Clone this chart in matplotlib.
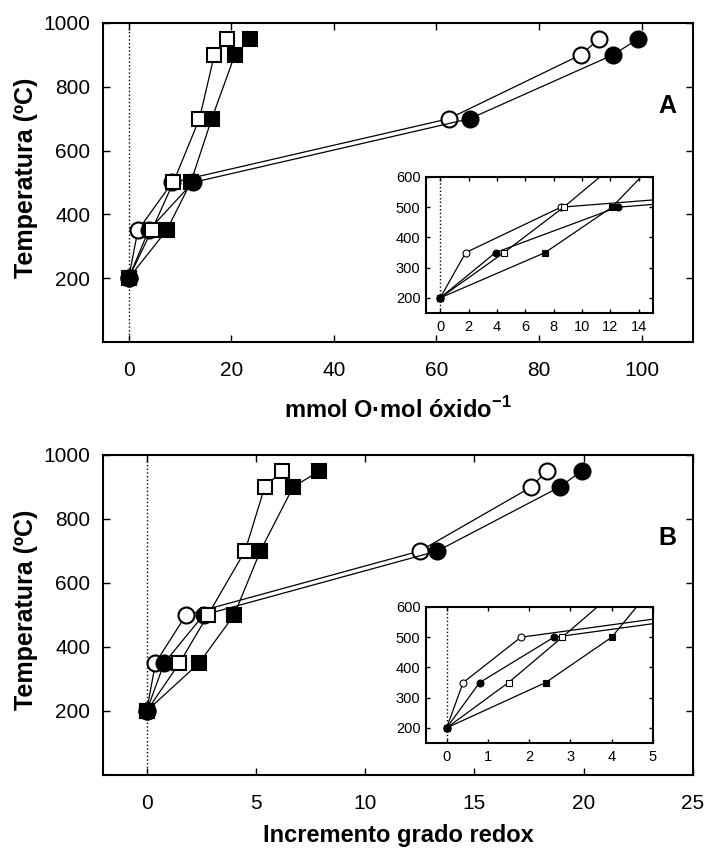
import matplotlib
matplotlib.use("Agg")
import matplotlib.pyplot as plt

# temperatures (ºC) shared by every series
temps = [200, 350, 500, 700, 900, 950]

# panel A: mmol O / mol oxide
oc_a = [0, 1.8, 8.5, 62.4, 88.1, 91.7]
fc_a = [0, 3.9, 12.5, 66.5, 94.4, 99.3]
os_a = [0, 4.5, 8.7, 13.8, 16.7, 19.1]
fs_a = [0, 7.4, 12.1, 16.2, 20.7, 23.7]

# panel B: redox degree increment
oc_b = [0, 0.4, 1.8, 12.5, 17.6, 18.3]
fc_b = [0, 0.8, 2.6, 13.3, 18.9, 19.9]
os_b = [0, 1.5, 2.8, 4.5, 5.4, 6.2]
fs_b = [0, 2.4, 4.0, 5.2, 6.7, 7.9]

plt.rcParams["font.family"] = ["Liberation Sans", "DejaVu Sans"]
plt.rcParams["mathtext.fontset"] = "custom"
plt.rcParams["mathtext.rm"] = "Liberation Sans"
plt.rcParams["mathtext.bf"] = "Liberation Sans:bold"

W, H = 708, 848
fig = plt.figure(figsize=(W / 100, H / 100), dpi=100)


def px_axes(l, t, r, b):
    return fig.add_axes([l / W, 1 - b / H, (r - l) / W, (b - t) / H])


def style(ax, lw=1.5, fs=15, length=5, xpad=14, ypad=9):
    for s in ax.spines.values():
        s.set_linewidth(lw)
    ax.tick_params(direction="in", top=True, right=True, length=length, width=1,
                   labelsize=fs)
    ax.tick_params(axis="x", pad=xpad)
    ax.tick_params(axis="y", pad=ypad)


def draw(ax, series, big=True):
    ms_c, ms_s = (11.5, 10) if big else (5, 4.5)
    mew = 1.5 if big else 0.8
    oc, fc, os_, fs = series
    ax.axvline(0, color="black", linestyle=":", lw=1, zorder=1)
    kw = dict(color="black", lw=0.9, mec="black", mew=mew)
    ax.plot(oc, temps, marker="o", ms=ms_c, mfc="white", zorder=3, **kw)
    ax.plot(fc, temps, marker="o", ms=ms_c, mfc="black", zorder=3, **kw)
    ax.plot(os_, temps, marker="s", ms=ms_s, mfc="white", zorder=4, **kw)
    ax.plot(fs, temps, marker="s", ms=ms_s, mfc="black", zorder=4, **kw)


panels = [
    dict(top=23, bot=342, data=(oc_a, fc_a, os_a, fs_a), xlim=(-5, 110), xt=range(0, 101, 20),
         xlabel=r"mmol O·mol óxido$^{\mathbf{-1}}$", xly=-0.172, tag="A",
         ins=(426, 177, 653, 313), ixlim=(-1, 15), ixt=range(0, 15, 2)),
    dict(top=455, bot=775, data=(oc_b, fc_b, os_b, fs_b), xlim=(-2, 25), xt=range(0, 26, 5),
         xlabel="Incremento grado redox", xly=-0.152, tag="B",
         ins=(426, 607, 653, 743), ixlim=(-0.5, 5), ixt=range(0, 6, 1)),
]

for p in panels:
    ax = px_axes(103, p["top"], 693, p["bot"])
    draw(ax, p["data"])
    ax.set_xlim(*p["xlim"]); ax.set_ylim(0, 1000)
    ax.set_xticks(list(p["xt"])); ax.set_yticks(range(200, 1001, 200))
    style(ax)
    ax.set_ylabel("Temperatura (ºC)", fontsize=18, fontweight="bold")
    ax.yaxis.set_label_coords(-0.111, 0.515)
    ax.set_xlabel(p["xlabel"], fontsize=17, fontweight="bold")
    ax.xaxis.set_label_coords(0.5, p["xly"])
    ax.text(0.956, 0.74, p["tag"], transform=ax.transAxes, fontsize=18, fontweight="bold",
            ha="center", va="center")

    l, t, r, b = p["ins"]
    ia = px_axes(l, t, r, b)
    draw(ia, p["data"], big=False)
    ia.set_xlim(*p["ixlim"]); ia.set_ylim(150, 600)
    ia.set_xticks(list(p["ixt"])); ia.set_yticks(range(200, 601, 100))
    style(ia, lw=1.5, fs=10.5, length=3, xpad=5, ypad=4)

fig.savefig("out.png", dpi=100)
